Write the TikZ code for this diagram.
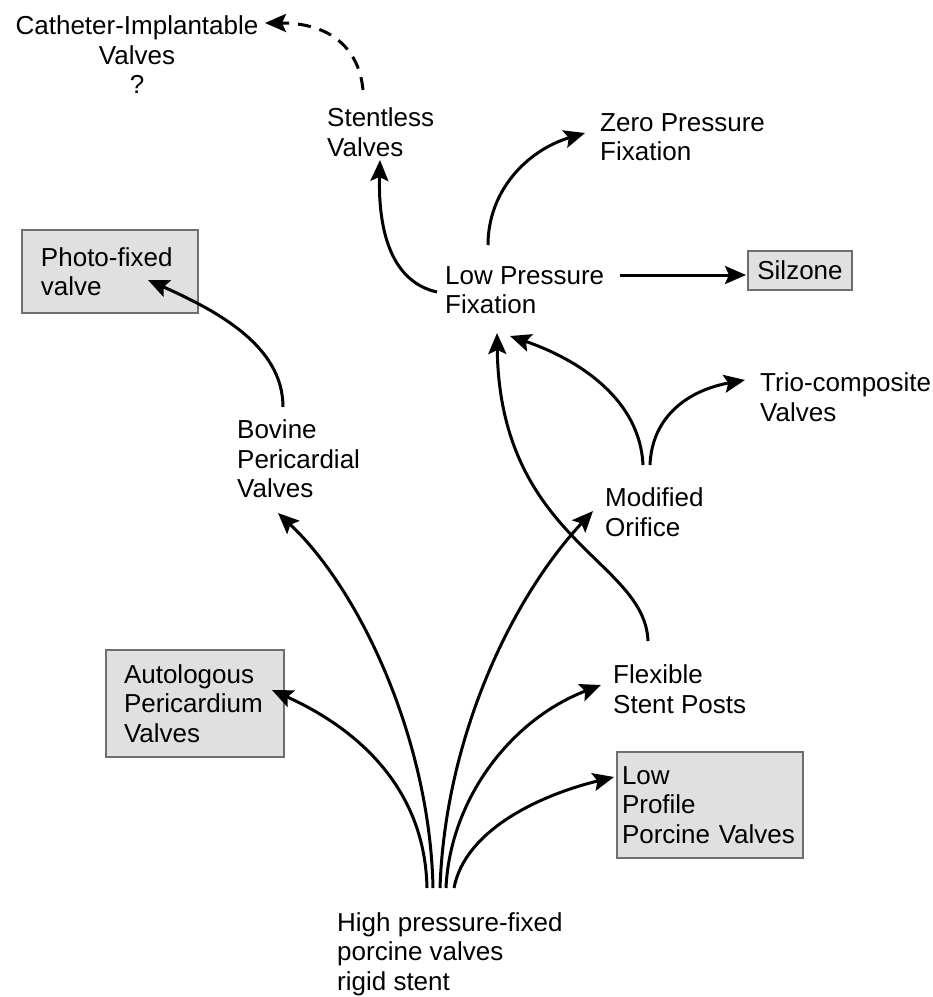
\documentclass[tikz,border=0pt]{standalone}
\usepackage{fontspec}
\setmainfont{Liberation Sans}
\usetikzlibrary{arrows.meta}
\definecolor{boxfill}{HTML}{E0E0E0}
\definecolor{boxborder}{HTML}{6E6E6E}
\begin{document}
\begin{tikzpicture}[x=1pt,y=-1pt,
  lbl/.style={inner sep=0pt, align=left, anchor=west, font=\fontsize{26}{29.5}\selectfont},
  graybox/.style={draw=boxborder, line width=1.4pt, fill=boxfill, inner ysep=0pt, align=left, font=\fontsize{26}{29.5}\selectfont},
  conn/.style={line width=3pt, -{Stealth[length=21pt,width=18pt,inset=4pt]}},
  dashconn/.style={conn, dash pattern=on 13pt off 9pt}
]
\useasboundingbox (0,0) rectangle (933,997);

% nodes
\node[lbl, anchor=center, align=center] (cath) at (137,55) {Catheter-Implantable\\Valves\\?};
\node[lbl] (stentless) at (327,132) {Stentless\\Valves};
\node[lbl] (zero) at (600,137) {Zero Pressure\\Fixation};
\node[graybox, inner xsep=19pt, text width=138pt, minimum height=83pt] (photo) at (110,271.5) {Photo-fixed\\valve};
\node[lbl] (lowp) at (445,290) {Low Pressure\\Fixation};
\node[graybox, inner sep=0pt, align=center, minimum width=104pt, minimum height=39pt] (silzone) at (800,270.5) {Silzone};
\node[lbl] (trio) at (760,397) {Trio-composite\\Valves};
\node[lbl] (bovine) at (237,459) {Bovine\\Pericardial\\Valves};
\node[lbl] (modified) at (605,512) {Modified\\Orifice};
\node[graybox, inner xsep=18pt, text width=142pt, minimum height=107pt] (auto) at (195,703.5) {Autologous\\Pericardium\\Valves};
\node[lbl] (flexible) at (613,689) {Flexible\\Stent Posts};
\node[graybox, inner xsep=5pt, text width=176pt, minimum height=106pt] (lowprof) at (710,805) {Low\\Profile\\Porcine Valves};
\node[lbl] (root) at (337,954) {High pressure-fixed\\porcine valves\\rigid stent};

% connector end points
\coordinate (stentless-out) at (363,90);
\coordinate (cath-in) at (265,23);
\coordinate (lowp-out1) at (437,292);
\coordinate (stentless-in) at (380,160);
\coordinate (lowp-out2) at (488,245);
\coordinate (zero-in) at (585,133);
\coordinate (lowp-out3) at (620,275);
\coordinate (silzone-in) at (746,275);
\coordinate (bovine-out) at (283,407);
\coordinate (photo-in) at (148,280);
\coordinate (root-a) at (427,888);
\coordinate (root-b) at (433,888);
\coordinate (root-c) at (440,888);
\coordinate (root-d) at (446,888);
\coordinate (root-e) at (454,888);
\coordinate (auto-in) at (272,690);
\coordinate (bovine-in) at (278,513);
\coordinate (modified-in) at (593,511);
\coordinate (flexible-in) at (601,685);
\coordinate (lowprof-in) at (614,777);
\coordinate (flexible-out) at (648,641);
\coordinate (lowp-in1) at (497,333);
\coordinate (modified-out1) at (643,465);
\coordinate (lowp-in2) at (510,336);
\coordinate (modified-out2) at (650,465);
\coordinate (trio-in) at (745,380);

% connectors
\draw[dashconn] (stentless-out) .. controls (359,48) and (330,23) .. (cath-in);
\draw[conn] (lowp-out1) .. controls (392,282) and (378,232) .. (stentless-in);
\draw[conn] (lowp-out2) .. controls (488,190) and (528,150) .. (zero-in);
\draw[conn] (lowp-out3) -- (silzone-in);
\draw[conn] (bovine-out) .. controls (283,345) and (215,310) .. (photo-in);
\draw[conn] (root-a) .. controls (425,790) and (360,730) .. (auto-in);
\draw[conn] (root-b) .. controls (430,740) and (360,590) .. (bovine-in);
\draw[conn] (root-c) .. controls (445,740) and (510,600) .. (modified-in);
\draw[conn] (root-d) .. controls (450,800) and (510,720) .. (flexible-in);
\draw[conn] (root-e) .. controls (465,830) and (540,795) .. (lowprof-in);
\draw[conn] (flexible-out) .. controls (645,560) and (500,540) .. (lowp-in1);
\draw[conn] (modified-out1) .. controls (640,400) and (580,360) .. (lowp-in2);
\draw[conn] (modified-out2) .. controls (652,415) and (690,390) .. (trio-in);
\end{tikzpicture}
\end{document}
